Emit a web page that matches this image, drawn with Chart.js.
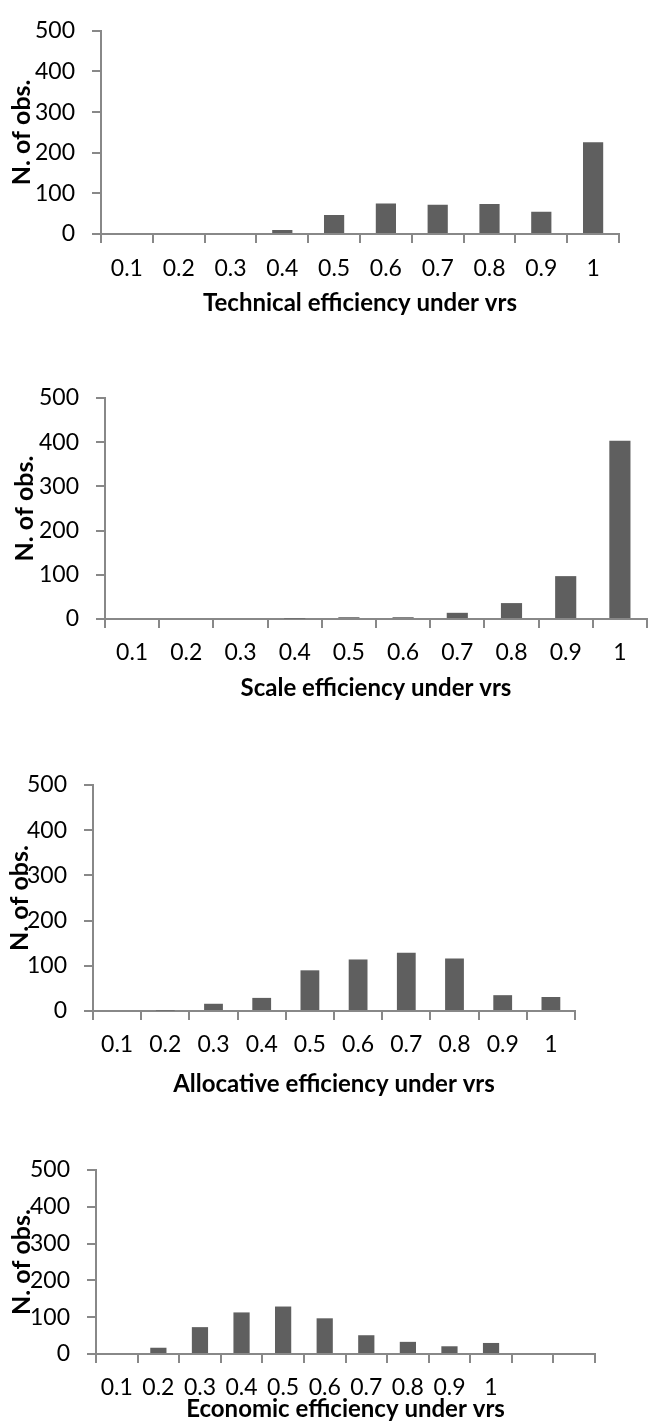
<!DOCTYPE html>
<html lang="en">
<head>
<meta charset="UTF-8">
<title>Efficiency distributions under vrs</title>
<script src="https://cdn.jsdelivr.net/npm/chart.js"></script>
<style>
    body {
        margin: 0;
        background: #ffffff;
    }
    #wrap {
        position: relative;
        width: 648px;
        height: 1424px;
    }
    .box {
        position: absolute;
        left: 0;
        width: 648px;
    }
</style>
</head>
<body>
<div id="wrap">
    <div class="box" style="top:0px"><canvas id="c1" width="648" height="320"></canvas></div>
    <div class="box" style="top:360px"><canvas id="c2" width="648" height="350"></canvas></div>
    <div class="box" style="top:740px"><canvas id="c3" width="648" height="360"></canvas></div>
    <div class="box" style="top:1110px"><canvas id="c4" width="648" height="314"></canvas></div>
</div>

<script>
    // efficiency bins (last chart has two empty slots at the end)
    const bins = ['0.1', '0.2', '0.3', '0.4', '0.5', '0.6', '0.7', '0.8', '0.9', '1'];
    const binsEconomic = ['0.1', '0.2', '0.3', '0.4', '0.5', '0.6', '0.7', '0.8', '0.9', '1', '', ''];
    const yTicks = [0, 100, 200, 300, 400, 500];

    // number of observations per bin
    const technicalVrs = [0, 0, 0, 10, 47, 75, 72, 74, 55, 226];
    const scaleVrs = [0, 0, 0, 1, 4, 4, 14, 36, 97, 403];
    const allocativeVrs = [0, 1, 16, 29, 90, 114, 129, 116, 35, 31];
    const economicVrs = [0, 17, 73, 113, 129, 97, 51, 33, 21, 30, null, null];

    const titles = [
        'Technical efficiency under vrs',
        'Scale efficiency under vrs',
        'Allocative efficiency under vrs',
        'Economic efficiency under vrs'
    ];

    const FONT = 'Lato, "Liberation Sans", sans-serif';
    const AXIS = '#888888';
    const BAR = '#5f5f5f';

    // per-chart placement inside its canvas
    const layouts = [
        { padTop: 20, padRight: 29, yWidth: 101, xHeight: 86, yTitlePad: 7, xTickPad: 12, xTitlePad: 2 },
        { padTop: 38, padRight: 1, yWidth: 105, xHeight: 91, yTitlePad: 10, xTickPad: 11, xTitlePad: 7 },
        { padTop: 45, padRight: 73, yWidth: 93, xHeight: 89, yTitlePad: 5, xTickPad: 11, xTitlePad: 1 },
        { padTop: 60, padRight: 53, yWidth: 96, xHeight: 70, yTitlePad: 7, xTickPad: 11, xTitlePad: 0 }
    ];

    function makeChart(id, labels, values, title, lay) {
        const ctx = document.getElementById(id).getContext('2d');
        return new Chart(ctx, {
            type: 'bar',
            data: {
                labels: labels,
                datasets: [{
                    data: values,
                    backgroundColor: BAR,
                    borderWidth: 0,
                    categoryPercentage: 1,
                    barPercentage: 0.39
                }]
            },
            options: {
                responsive: false,
                animation: false,
                devicePixelRatio: 1,
                layout: { padding: { top: lay.padTop, right: lay.padRight, left: 0, bottom: 0 } },
                plugins: {
                    legend: { display: false },
                    tooltip: { enabled: false }
                },
                scales: {
                    x: {
                        afterFit: s => { s.height = lay.xHeight; },
                        grid: {
                            drawOnChartArea: false,
                            drawTicks: true,
                            tickLength: 9,
                            color: AXIS,
                            lineWidth: 2,
                            offset: true
                        },
                        border: { display: true, color: AXIS, width: 2 },
                        ticks: {
                            color: '#000000',
                            padding: lay.xTickPad,
                            maxRotation: 0,
                            autoSkip: false,
                            font: { family: FONT, size: 23 }
                        },
                        title: {
                            display: true,
                            text: title,
                            color: '#000000',
                            padding: { top: 0, bottom: lay.xTitlePad },
                            font: { family: FONT, size: 24, weight: 'bold' }
                        }
                    },
                    y: {
                        min: 0,
                        max: 500,
                        afterFit: s => { s.width = lay.yWidth; },
                        afterBuildTicks: s => { s.ticks = yTicks.map(v => ({ value: v })); },
                        grid: {
                            drawOnChartArea: false,
                            drawTicks: true,
                            tickLength: 9,
                            color: AXIS,
                            lineWidth: 2
                        },
                        border: { display: true, color: AXIS, width: 2 },
                        ticks: {
                            color: '#000000',
                            padding: 17,
                            font: { family: FONT, size: 23 }
                        },
                        title: {
                            display: true,
                            text: 'N. of obs.',
                            color: '#000000',
                            padding: { top: lay.yTitlePad, bottom: 0 },
                            font: { family: FONT, size: 25, weight: 'bold' }
                        }
                    }
                }
            }
        });
    }

    makeChart('c1', bins, technicalVrs, titles[0], layouts[0]);
    makeChart('c2', bins, scaleVrs, titles[1], layouts[1]);
    makeChart('c3', bins, allocativeVrs, titles[2], layouts[2]);
    makeChart('c4', binsEconomic, economicVrs, titles[3], layouts[3]);
</script>
</body>
</html>
